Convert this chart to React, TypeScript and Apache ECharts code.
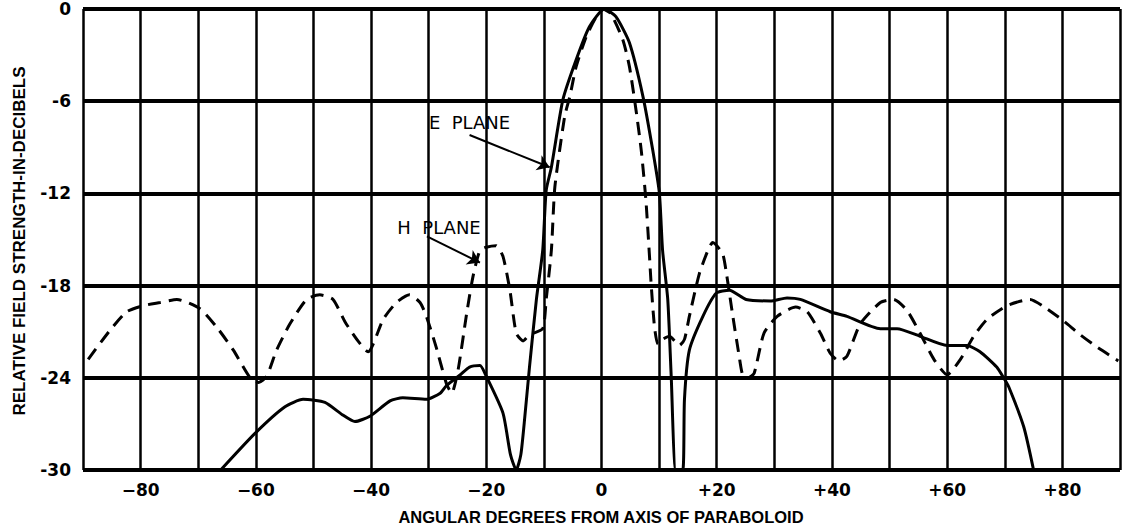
import React, { useEffect, useRef } from "react";
import * as echarts from "echarts";

// X: angular degrees, Y: relative field strength (dB)
const xTicks = [-90, -80, -70, -60, -50, -40, -30, -20, -10, 0, 10, 20, 30, 40, 50, 60, 70, 80, 90];
const yTicks = [0, -6, -12, -18, -24, -30];

// E plane (solid)
const ePlane: [number, number][] = [
  [-66.1, -30], [-60.1, -27.6], [-55, -25.9], [-51.8, -25.4], [-48, -25.6], [-45, -26.4],
  [-42.8, -26.85], [-40.2, -26.5], [-36.7, -25.5], [-34.5, -25.3], [-30.4, -25.4], [-28, -25.0],
  [-26.9, -24.5], [-24.5, -23.8], [-22.9, -23.3], [-21.1, -23.2], [-20, -23.9], [-17.1, -26.3],
  [-15.8, -29], [-14.8, -30], [-14, -29], [-13.3, -26.5], [-12.5, -23.3], [-11.3, -18.9],
  [-10.2, -15.7], [-9.6, -11.8], [-8.7, -10.3], [-6.7, -5.9], [-4.4, -3.3], [-2.1, -1.15],
  [0.5, 0], [2.5, -0.5], [4.85, -2.2], [7.2, -5.7], [8.9, -9.2], [10.05, -12], [10.6, -15.7],
  [11.5, -18.9], [12.1, -23.9], [12.9, -30], [14.1, -30], [14.4, -25.4], [15.25, -22.2],
  [17.6, -20], [19.9, -18.5], [22.2, -18.3], [25.1, -18.9], [29.3, -19.0], [32.2, -18.8],
  [34.5, -18.9], [39.7, -19.7], [42.6, -20.0], [48.4, -20.8], [51.3, -20.8], [55.3, -21.3],
  [60, -21.9], [63.4, -21.9], [65.7, -22.3], [68.6, -23.3], [69.8, -24.0], [70.7, -24.6],
  [73.3, -27.2], [75, -30],
];

// H plane (dashed)
const hPlane: [number, number][] = [
  [-89.1, -22.8], [-85.3, -20.9], [-82.4, -19.7], [-79.5, -19.3], [-76.6, -19.1], [-73.7, -18.9],
  [-69.7, -19.5], [-66.8, -20.7], [-63.9, -22.2], [-61, -24.0], [-59.5, -24.3], [-58.1, -23.9],
  [-56.4, -22.2], [-54.1, -20.5], [-51.2, -18.9], [-48.9, -18.6], [-46.6, -18.9], [-44.3, -20.5],
  [-40.5, -22.3], [-37.9, -20.2], [-35.6, -19.1], [-33.3, -18.6], [-31.5, -19.1], [-30.4, -20],
  [-28.7, -22], [-26.9, -24.4], [-26, -25.0], [-24.9, -23.5], [-23.4, -19.8], [-22.3, -17.4],
  [-21.1, -15.7], [-20, -15.5], [-18.3, -15.4], [-17.1, -16.1], [-15.9, -18.3], [-14.8, -21.1],
  [-13.6, -21.6], [-12.5, -21.2], [-10.2, -20.8], [-9.6, -18.9], [-8.7, -15.7], [-8.1, -11.6],
  [-6.4, -7.0], [-5.5, -5.7], [-4.4, -3.75], [-2.65, -1.8], [-0.9, -0.5], [0.2, 0], [1.6, -0.3],
  [3.7, -2.0], [4.85, -3.75], [6.0, -6.6], [6.9, -9.2], [7.7, -12.4], [8.3, -15.9], [8.6, -17.8],
  [9.2, -20.7], [9.8, -21.8], [10.6, -21.5], [11.8, -21.3], [13.5, -21.9], [14.4, -21.5],
  [15.25, -20.0], [17.0, -17.2], [18.7, -15.5], [19.3, -15.2], [21, -15.9], [21.6, -17.0],
  [22.8, -20.0], [23.9, -22.6], [24.5, -23.8], [25.5, -24.0], [26.5, -23.7], [28.2, -21.1],
  [30.5, -20], [33.7, -19.4], [35.7, -19.7], [38, -21.1], [39.7, -22.4], [41.2, -22.9],
  [42.6, -22.6], [44.9, -20.5], [48.4, -19.1], [50.7, -18.9], [53, -19.6], [55.3, -21.1],
  [57.7, -22.8], [60, -23.8], [62.3, -22.8], [64.6, -21.3], [66.9, -20.2], [70.4, -19.3],
  [74.4, -18.9], [77.3, -19.5], [80.2, -20.3], [83.1, -21.2], [86, -22.0], [89.7, -22.9],
];

// Annotations (data coordinates)
const eLabel = { text: "E  PLANE", at: [-22.9, -7.4], from: [-22.9, -8.2], to: [-9.0, -10.3] };
const hLabel = { text: "H  PLANE", at: [-28.2, -14.25], from: [-30.3, -14.8], to: [-21.1, -16.5] };

const xTitle = "ANGULAR DEGREES FROM AXIS OF PARABOLOID";
const yTitle = "RELATIVE FIELD STRENGTH-IN-DECIBELS";

export default function App() {
  const ref = useRef<HTMLDivElement>(null);
  useEffect(() => {
    const chart = echarts.init(ref.current!, null, { renderer: "svg" });
    const labelFont = { fontFamily: "DejaVu Sans", fontWeight: "bold" as const, color: "#000" };
    chart.setOption({
      animation: false,
      backgroundColor: "#fff",
      grid: { left: 83, right: 8, top: 9, bottom: 59 },
      xAxis: {
        type: "value",
        min: xTicks[0],
        max: xTicks[xTicks.length - 1],
        interval: 10,
        axisLine: { show: false },
        axisTick: { show: false },
        splitLine: { show: true, lineStyle: { color: "#000", width: 2.5 } },
        axisLabel: {
          ...labelFont,
          fontSize: 17,
          margin: 11,
          formatter: (v: number) => {
            if (v % 20 !== 0) return "";
            if (v === 0) return "0";
            return v < 0 ? "\u2212" + Math.abs(v) : "+" + v;
          },
        },
      },
      yAxis: {
        type: "value",
        min: yTicks[yTicks.length - 1],
        max: yTicks[0],
        interval: 6,
        axisLine: { show: false },
        axisTick: { show: false },
        splitLine: { show: true, lineStyle: { color: "#000", width: 4 } },
        axisLabel: {
          ...labelFont,
          fontSize: 17,
          margin: 12,
          formatter: (v: number) => (v === 0 ? "0" : "-" + Math.abs(v)),
        },
      },
      graphic: [
        {
          type: "text",
          x: 601,
          y: 517,
          style: {
            text: xTitle,
            font: "bold 16.5px 'Liberation Sans'",
            fill: "#000",
            align: "center",
            verticalAlign: "middle",
          },
        },
        {
          type: "text",
          x: 19,
          y: 241,
          rotation: Math.PI / 2,
          style: {
            text: yTitle,
            font: "bold 17px 'Liberation Sans'",
            fill: "#000",
            align: "center",
            verticalAlign: "middle",
          },
        },
      ],
      series: [
        {
          name: "E PLANE",
          type: "line",
          data: ePlane,
          smooth: 0.2,
          showSymbol: false,
          symbol: "none",
          lineStyle: { color: "#000", width: 3 },
          z: 3,
          markLine: {
            silent: true,
            symbol: ["none", "arrow"],
            symbolSize: 12,
            label: { show: false },
            lineStyle: { color: "#000", width: 2, type: "solid" },
            data: [
              [{ coord: eLabel.from }, { coord: eLabel.to }],
              [{ coord: hLabel.from }, { coord: hLabel.to }],
            ],
          },
          markPoint: {
            silent: true,
            symbol: "circle",
            symbolSize: 0.1,
            itemStyle: { color: "rgba(0,0,0,0)" },
            label: {
              show: true,
              position: "inside",
              color: "#000",
              fontFamily: "DejaVu Sans",
              fontSize: 18,
              formatter: (p: any) => p.name,
            },
            data: [
              { name: eLabel.text, coord: eLabel.at },
              { name: hLabel.text, coord: hLabel.at },
            ],
          },
        },
        {
          name: "H PLANE",
          type: "line",
          data: hPlane,
          smooth: 0.2,
          showSymbol: false,
          symbol: "none",
          lineStyle: { color: "#000", width: 3, type: [13, 8] },
          z: 3,
        },
      ],
    });
    return () => chart.dispose();
  }, []);
  return (
    <div
      ref={ref}
      style={{ position: "fixed", left: 0, top: 0, width: 1128, height: 529, background: "#fff" }}
    />
  );
}
